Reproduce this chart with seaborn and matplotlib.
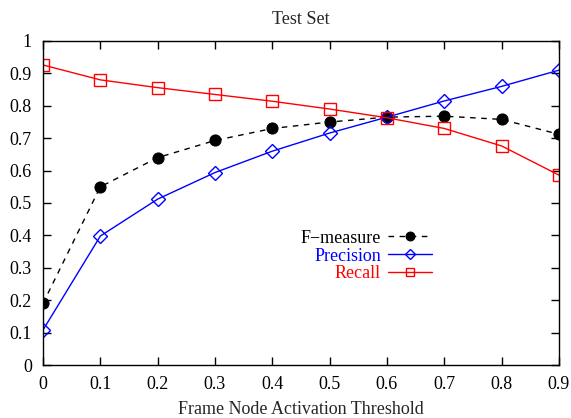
import pandas as pd
import seaborn as sns
import matplotlib.pyplot as plt

thresholds = [0.0, 0.1, 0.2, 0.3, 0.4, 0.5, 0.6, 0.7, 0.8, 0.9]
f_measure = [0.19, 0.55, 0.64, 0.693, 0.73, 0.75, 0.765, 0.768, 0.758, 0.712]
precision = [0.108, 0.398, 0.512, 0.594, 0.66, 0.716, 0.765, 0.815, 0.86, 0.91]
recall = [0.926, 0.88, 0.856, 0.835, 0.814, 0.79, 0.763, 0.73, 0.676, 0.586]

df = pd.DataFrame({"threshold": thresholds, "F-measure": f_measure,
                   "Precision": precision, "Recall": recall})

sns.set_theme(style="ticks")
plt.rcParams["font.family"] = ["Liberation Serif", "DejaVu Serif"]

fig = plt.figure(figsize=(5.71, 4.18), dpi=100)
ax = fig.add_axes([43/571, 1-365/418, (559-43)/571, (365-41)/418])

sns.lineplot(data=df, x="threshold", y="F-measure", ax=ax, color="black",
             linestyle=(0, (4, 4)), linewidth=1, marker="o", markersize=8,
             markerfacecolor="black", markeredgecolor="black", label="F\u2212measure")
sns.lineplot(data=df, x="threshold", y="Precision", ax=ax, color="blue",
             linewidth=1, marker="D", markersize=7, markerfacecolor="none",
             markeredgecolor="blue", markeredgewidth=1, label="Precision")
sns.lineplot(data=df, x="threshold", y="Recall", ax=ax, color="red",
             linewidth=1, marker="s", markersize=8, markerfacecolor="none",
             markeredgecolor="red", markeredgewidth=1, label="Recall")

ax.set_xlim(0, 0.9)
ax.set_ylim(0, 1)
ax.set_xticks(thresholds)
ax.set_xticklabels(["0"] + [f"{t:g}" for t in thresholds[1:]])
ax.set_yticks([i / 10 for i in range(11)])
ax.set_yticklabels(["0"] + [f"{i/10:g}" for i in range(1, 10)] + ["1"])
ax.tick_params(direction="in", length=6, width=1, top=True, right=True,
               labelsize=13, colors="black", pad=8)
for s in ax.spines.values():
    s.set_visible(True)
    s.set_linewidth(1)
    s.set_color("black")

ax.set_xlabel("Frame Node Activation Threshold", fontsize=13, labelpad=6)
ax.set_ylabel("")
ax.set_title("Test Set", fontsize=13, pad=12)

leg = ax.legend(loc="upper left", bbox_to_anchor=(0.468, 0.468), frameon=False,
                markerfirst=False, fontsize=13, handlelength=2.4,
                labelspacing=0.05, handletextpad=0.4, markerscale=0.8,
                labelcolor=["black", "blue", "red"])

fig.savefig("out.png", dpi=100)
